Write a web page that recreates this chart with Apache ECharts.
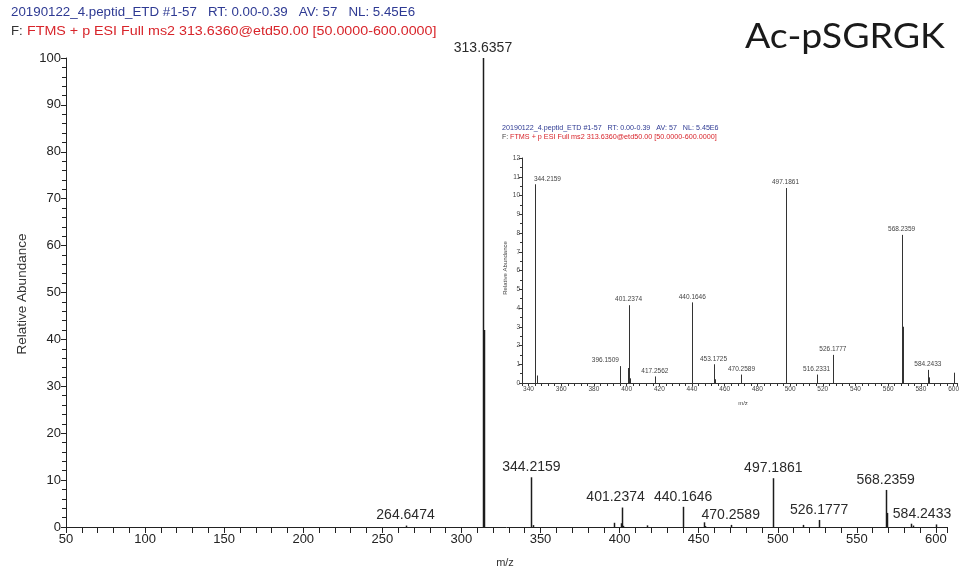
<!DOCTYPE html>
<html>
<head>
<meta charset="utf-8">
<script src="https://cdn.jsdelivr.net/npm/echarts@6/dist/echarts.min.js"></script>
<style>
  html, body { margin: 0; padding: 0; background: #fff; }
  #chart { width: 962px; height: 571px; }
</style>
</head>
<body>
<div id="chart"></div>
<script>
// Centroid peak list (m/z, relative abundance %)
const peakMz = [264.6474, 313.6357, 314.1374, 344.2159, 345.2190, 396.1509, 400.7400, 401.2374,
                402.2410, 417.2562, 440.1646, 453.1725, 454.1760, 470.2589, 497.1861, 516.2331,
                526.1777, 568.2359, 569.2390, 584.2433, 585.2460, 600.0100];
const peakAbundance = [0.3, 100, 42, 10.6, 0.4, 0.9, 0.8, 4.15,
                       0.25, 0.35, 4.3, 1.0, 0.2, 0.45, 10.4, 0.45,
                       1.5, 7.9, 3.0, 0.7, 0.3, 0.55];

// Peaks annotated in the full-range spectrum and in the zoomed 340-600 view
const mainLabelMz = [264.6474, 313.6357, 344.2159, 401.2374, 440.1646, 470.2589, 497.1861,
                     526.1777, 568.2359, 584.2433];
const insetLabelMz = [344.2159, 396.1509, 401.2374, 417.2562, 440.1646, 453.1725, 470.2589,
                      497.1861, 516.2331, 526.1777, 568.2359, 584.2433];

// Tick settings
const mainXTicks = { min: 50, max: 607, interval: 50 };
const mainYTicks = { min: 0, max: 100, interval: 10 };
const insetXTicks = { min: 336, max: 602.5, interval: 4, labelEvery: 20 };
const insetYTicks = { min: 0, max: 12, interval: 1 };

const headerLine1 = '20190122_4.peptid_ETD #1-57   RT: 0.00-0.39   AV: 57   NL: 5.45E6';
const headerLine2a = 'F: ';
const headerLine2b = 'FTMS + p ESI Full ms2 313.6360@etd50.00 [50.0000-600.0000]';
const sampleName = 'Ac-pSGRGK';

const FONT = '"Liberation Sans", Arial, sans-serif';
const BLUE = '#2e3a93';
const RED = '#d8242a';

const sticks = peakMz.map((m, i) => [m, peakAbundance[i]]);
const abundanceOf = m => peakAbundance[peakMz.indexOf(m)];

// small horizontal nudges so neighbouring annotations do not collide
const mainNudge = { 401.2374: -6, 584.2433: 11 };
const insetNudge = { 344.2159: 12, 396.1509: -15 };

function stickSeries(xi, yi, lw, color) {
  return {
    type: 'custom', xAxisIndex: xi, yAxisIndex: yi, data: sticks, clip: true, silent: true,
    renderItem: (params, api) => {
      const x = api.value(0), y = api.value(1);
      const p0 = api.coord([x, 0]);
      const p1 = api.coord([x, y]);
      const px = Math.round(p0[0]) + 0.5;
      return {
        type: 'line',
        shape: { x1: px, y1: p0[1], x2: px, y2: p1[1] },
        style: { stroke: color, lineWidth: lw }
      };
    }
  };
}

function labelSeries(xi, yi, list, nudge, fontSize, gap, color) {
  return {
    type: 'custom', xAxisIndex: xi, yAxisIndex: yi, silent: true,
    data: list.map(m => [m, abundanceOf(m)]),
    renderItem: (params, api) => {
      const x = api.value(0), y = api.value(1);
      const p = api.coord([x, y]);
      return {
        type: 'text',
        x: p[0] + (nudge[x] || 0), y: p[1] - gap,
        style: {
          text: x.toFixed(4), fill: color,
          font: fontSize + 'px ' + FONT,
          textAlign: 'center', textVerticalAlign: 'bottom'
        }
      };
    }
  };
}

const chart = echarts.init(document.getElementById('chart'), null, { renderer: 'canvas' });

const option = {
  animation: false,
  backgroundColor: '#fff',
  grid: [
    { left: 66, right: 15, top: 58, bottom: 44 },
    { left: 522, right: 2, top: 158, bottom: 188 }
  ],
  xAxis: [
    {
      type: 'value', gridIndex: 0, min: mainXTicks.min, max: mainXTicks.max, interval: mainXTicks.interval,
      axisLine: { lineStyle: { color: '#222', width: 1 } },
      axisTick: { length: 6, lineStyle: { color: '#222' } },
      minorTick: { show: true, splitNumber: 5, length: 6, lineStyle: { color: '#222' } },
      axisLabel: {
        color: '#222', fontSize: 13, fontFamily: FONT, margin: 6,
        formatter: v => (v % 50 === 0 ? String(v) : '')
      },
      splitLine: { show: false }
    },
    {
      type: 'value', gridIndex: 1, min: insetXTicks.min, max: insetXTicks.max, interval: insetXTicks.interval,
      axisLine: { lineStyle: { color: '#333', width: 1 } },
      axisTick: { length: 3, lineStyle: { color: '#333' } },
      axisLabel: {
        color: '#444', fontSize: 6.5, fontFamily: FONT, margin: 3,
        formatter: v => (v % insetXTicks.labelEvery === 0 ? String(v) : '')
      },
      splitLine: { show: false }
    }
  ],
  yAxis: [
    {
      type: 'value', gridIndex: 0, min: mainYTicks.min, max: mainYTicks.max, interval: mainYTicks.interval,
      axisLine: { show: true, lineStyle: { color: '#222', width: 1 } },
      axisTick: { show: true, length: 5, lineStyle: { color: '#222' } },
      minorTick: { show: true, splitNumber: 5, length: 4, lineStyle: { color: '#222' } },
      axisLabel: { color: '#222', fontSize: 13, fontFamily: FONT, margin: 5 },
      splitLine: { show: false }
    },
    {
      type: 'value', gridIndex: 1, min: insetYTicks.min, max: insetYTicks.max, interval: insetYTicks.interval,
      axisLine: { show: true, lineStyle: { color: '#333', width: 1 } },
      axisTick: { show: true, length: 3, lineStyle: { color: '#333' } },
      minorTick: { show: true, splitNumber: 2, length: 2, lineStyle: { color: '#333' } },
      axisLabel: { color: '#444', fontSize: 6.5, fontFamily: FONT, margin: 2 },
      splitLine: { show: false }
    }
  ],
  series: [
    stickSeries(0, 0, 1.5, '#1c1c1c'),
    labelSeries(0, 0, mainLabelMz, mainNudge, 14, 3, '#2a2a2a'),
    stickSeries(1, 1, 1, '#333'),
    labelSeries(1, 1, insetLabelMz, insetNudge, 6.5, 2, '#444')
  ],
  graphic: [
    { type: 'text', x: 11, y: 7, scaleX: 1.11, style: { text: headerLine1, fill: BLUE, font: '12px ' + FONT } },
    { type: 'text', x: 11, y: 26, scaleX: 1.1, style: { text: headerLine2a, fill: '#333', font: '12px ' + FONT } },
    { type: 'text', x: 27, y: 26, scaleX: 1.19, style: { text: headerLine2b, fill: RED, font: '12px ' + FONT } },
    { type: 'text', x: 745, y: 19, scaleX: 1.07, style: { text: sampleName, fill: '#1a1a1a', font: '35px Lato, "Open Sans", sans-serif' } },
    { type: 'text', x: 22, y: 294, rotation: Math.PI / 2,
      style: { text: 'Relative Abundance', fill: '#333', font: '13.5px ' + FONT, textAlign: 'center', textVerticalAlign: 'middle' } },
    { type: 'text', x: 505, y: 563, style: { text: 'm/z', fill: '#333', font: '11px ' + FONT, textAlign: 'center', textVerticalAlign: 'middle' } },
    { type: 'text', x: 502, y: 128, scaleX: 1.02, style: { text: headerLine1, fill: BLUE, font: '7px ' + FONT, textVerticalAlign: 'middle' } },
    { type: 'text', x: 502, y: 137, style: { text: 'F: ', fill: '#444', font: '7px ' + FONT, textVerticalAlign: 'middle' } },
    { type: 'text', x: 510, y: 137, scaleX: 1.03, style: { text: headerLine2b, fill: RED, font: '7px ' + FONT, textVerticalAlign: 'middle' } },
    { type: 'text', x: 505, y: 268, rotation: Math.PI / 2,
      style: { text: 'Relative Abundance', fill: '#444', font: '6px ' + FONT, textAlign: 'center', textVerticalAlign: 'middle' } },
    { type: 'text', x: 743, y: 403, style: { text: 'm/z', fill: '#444', font: '6px ' + FONT, textAlign: 'center', textVerticalAlign: 'middle' } }
  ]
};

chart.setOption(option);
</script>
</body>
</html>
